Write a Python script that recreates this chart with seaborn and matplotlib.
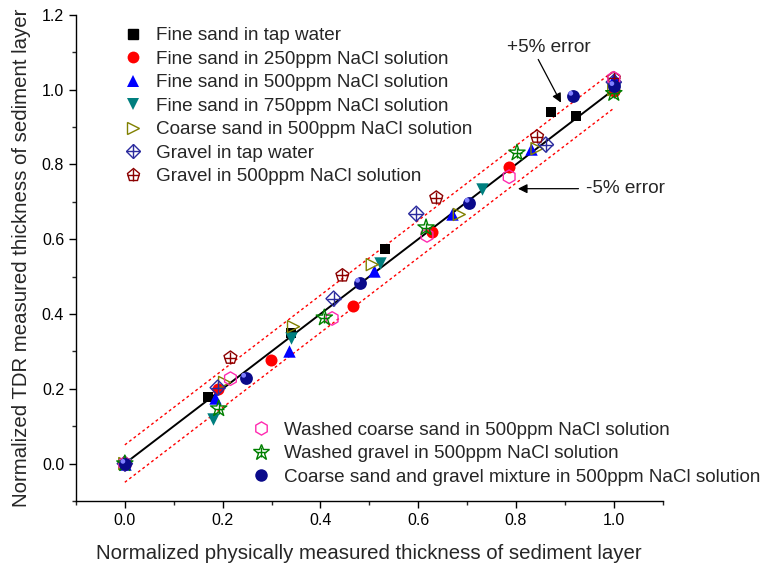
import numpy as np
import pandas as pd
import matplotlib
matplotlib.use("Agg")
import matplotlib.pyplot as plt
import seaborn as sns
from matplotlib.legend_handler import HandlerTuple
from matplotlib.lines import Line2D

sns.set_style("ticks")
plt.rcParams['font.family'] = ['Liberation Sans', 'DejaVu Sans']

# ---- data (normalized physical x, normalized TDR y) ----
fine_tap_x = [0.0, 0.171, 0.339, 0.533, 0.871, 0.922, 1.0]
fine_tap_y = [0.0, 0.179, 0.350, 0.575, 0.939, 0.928, 1.0]

fine_250_x = [0.0, 0.190, 0.298, 0.466, 0.629, 0.786, 1.0]
fine_250_y = [0.0, 0.200, 0.278, 0.422, 0.618, 0.794, 0.995]

fine_500_x = [0.0, 0.184, 0.335, 0.510, 0.669, 0.830, 1.0]
fine_500_y = [0.0, 0.174, 0.302, 0.516, 0.666, 0.840, 1.03]

fine_750_x = [0.0, 0.180, 0.340, 0.522, 0.730, 1.0]
fine_750_y = [0.0, 0.120, 0.337, 0.537, 0.735, 1.0]

coarse_500_x = [0.0, 0.204, 0.345, 0.506, 0.684, 0.843, 1.0]
coarse_500_y = [0.0, 0.217, 0.366, 0.532, 0.666, 0.842, 1.0]

gravel_tap_x = [0.0, 0.190, 0.427, 0.596, 0.861, 1.0]
gravel_tap_y = [0.0, 0.203, 0.441, 0.668, 0.853, 1.02]

gravel_500_x = [0.0, 0.216, 0.445, 0.637, 0.843, 1.0]
gravel_500_y = [0.0, 0.283, 0.503, 0.711, 0.874, 1.03]

washed_coarse_x = [0.0, 0.216, 0.424, 0.618, 0.786, 1.0]
washed_coarse_y = [0.0, 0.227, 0.388, 0.610, 0.767, 1.03]

washed_gravel_x = [0.0, 0.192, 0.408, 0.616, 0.802, 1.0]
washed_gravel_y = [0.0, 0.147, 0.390, 0.631, 0.831, 0.99]

mixture_x = [0.0, 0.247, 0.480, 0.704, 0.916, 1.0]
mixture_y = [0.0, 0.230, 0.484, 0.698, 0.984, 1.01]

line_x = [0.0, 1.0]
line_y = [0.0, 1.0]
upper_y = [0.05, 1.05]
lower_y = [-0.05, 0.95]

labels1 = ["Fine sand in tap water",
           "Fine sand in 250ppm NaCl solution",
           "Fine sand in 500ppm NaCl solution",
           "Fine sand in 750ppm NaCl solution",
           "Coarse sand in 500ppm NaCl solution",
           "Gravel in tap water",
           "Gravel in 500ppm NaCl solution"]
labels2 = ["Washed coarse sand in 500ppm NaCl solution",
           "Washed gravel in 500ppm NaCl solution",
           "Coarse sand and gravel mixture in 500ppm NaCl solution"]

fig = plt.figure(figsize=(7.67, 5.68), dpi=100)
ax = fig.add_axes([0.099, 0.118, 0.765, 0.856])

# reference lines
sns.lineplot(x=line_x, y=line_y, ax=ax, color='black', lw=1.4, zorder=2)
sns.lineplot(x=line_x, y=upper_y, ax=ax, color='red', lw=1.0, ls=(0, (2, 2)), zorder=2)
sns.lineplot(x=line_x, y=lower_y, ax=ax, color='red', lw=1.0, ls=(0, (2, 2)), zorder=2)

def sc(x, y, **kw):
    sns.scatterplot(x=x, y=y, ax=ax, legend=False, zorder=3, **kw)

NAVY = '#2b2b9e'
MAROON = '#8b0000'
OLIVE = '#808000'
PINK = '#ff2ab0'
GREEN = '#008000'
TEAL = '#007f7f'
BALL = '#0a0a8a'

sc(fine_tap_x, fine_tap_y, marker='s', s=55, color='black', edgecolor='black', linewidth=0)
sc(fine_250_x, fine_250_y, marker='o', s=75, color='red', edgecolor='red', linewidth=0)
sc(fine_500_x, fine_500_y, marker='^', s=80, color='blue', edgecolor='blue', linewidth=0)
sc(fine_750_x, fine_750_y, marker='v', s=80, color=TEAL, edgecolor=TEAL, linewidth=0)
sc(coarse_500_x, coarse_500_y, marker='>', s=75, facecolor='none', edgecolor=OLIVE, linewidth=1.0)
sc(gravel_tap_x, gravel_tap_y, marker='D', s=60, facecolor='none', edgecolor=NAVY, linewidth=1.0)
sc(gravel_tap_x, gravel_tap_y, marker='+', s=90, color=NAVY, linewidth=1.0)
sc(gravel_500_x, gravel_500_y, marker='p', s=95, facecolor='none', edgecolor=MAROON, linewidth=1.0)
sc(gravel_500_x, gravel_500_y, marker='+', s=80, color=MAROON, linewidth=1.0)
sc(washed_coarse_x, washed_coarse_y, marker='h', s=95, facecolor='none', edgecolor=PINK, linewidth=1.0)
sc(washed_gravel_x, washed_gravel_y, marker='*', s=150, facecolor='none', edgecolor=GREEN, linewidth=1.0)
sc(washed_gravel_x, washed_gravel_y, marker='+', s=50, color=GREEN, linewidth=1.0)
sc(mixture_x, mixture_y, marker='o', s=85, color=BALL, edgecolor=BALL, linewidth=0)
sc([v - 0.004 for v in mixture_x], [v + 0.006 for v in mixture_y], marker='o', s=12,
   color='#8080ff', edgecolor='none', linewidth=0)

ax.set_xlim(-0.1, 1.1)
ax.set_ylim(-0.1, 1.2)
ax.set_xticks([0.0, 0.2, 0.4, 0.6, 0.8, 1.0])
ax.set_yticks([0.0, 0.2, 0.4, 0.6, 0.8, 1.0, 1.2])
ax.set_xticks(np.arange(-0.1, 1.11, 0.1), minor=True)
ax.set_yticks(np.arange(-0.1, 1.21, 0.1), minor=True)
ax.xaxis.set_major_formatter(matplotlib.ticker.FormatStrFormatter('%.1f'))
ax.yaxis.set_major_formatter(matplotlib.ticker.FormatStrFormatter('%.1f'))
ax.tick_params(axis='both', which='major', direction='out', length=5, width=1, labelsize=11.5, colors='black')
ax.tick_params(axis='both', which='minor', direction='out', length=3, width=1)
for s in ['top', 'right']:
    ax.spines[s].set_visible(False)
for s in ['left', 'bottom']:
    ax.spines[s].set_linewidth(1.0)
    ax.spines[s].set_color('black')

ax.set_xlabel("Normalized physically measured thickness of sediment layer", fontsize=14.7, labelpad=12)
ax.set_ylabel("Normalized TDR measured thickness of sediment layer", fontsize=14.7, labelpad=8)

# annotations
ax.annotate("+5% error", xy=(0.892, 0.965), xytext=(0.782, 1.112), fontsize=13.7,
            va='center', ha='left',
            arrowprops=dict(arrowstyle='-|>', color='black', lw=0.9,
                            shrinkA=0, shrinkB=0, relpos=(0.35, 0.0)))
ax.annotate("-5% error", xy=(0.804, 0.735), xytext=(0.943, 0.735), fontsize=13.7,
            va='center', ha='left',
            arrowprops=dict(arrowstyle='-|>', color='black', lw=0.9,
                            shrinkA=3, shrinkB=0, relpos=(0.0, 0.5)))

# legends
def H(*specs):
    hs = [Line2D([], [], ls='none', **sp) for sp in specs]
    return tuple(hs) if len(hs) > 1 else hs[0]

h1 = [H(dict(marker='s', ms=7, color='black', mec='black')),
      H(dict(marker='o', ms=8.5, color='red', mec='red', mew=0)),
      H(dict(marker='^', ms=9, color='blue', mec='blue', mew=0)),
      H(dict(marker='v', ms=9, color=TEAL, mec=TEAL, mew=0)),
      H(dict(marker='>', ms=8, mfc='none', mec=OLIVE, mew=1)),
      H(dict(marker='D', ms=7.5, mfc='none', mec=NAVY, mew=1), dict(marker='+', ms=9.5, color=NAVY, mew=1)),
      H(dict(marker='p', ms=9.5, mfc='none', mec=MAROON, mew=1), dict(marker='+', ms=9, color=MAROON, mew=1))]
h2 = [H(dict(marker='h', ms=9.5, mfc='none', mec=PINK, mew=1)),
      H(dict(marker='*', ms=12, mfc='none', mec=GREEN, mew=1), dict(marker='+', ms=7, color=GREEN, mew=1)),
      H(dict(marker='o', ms=9, color=BALL, mec=BALL, mew=0))]

hm = {tuple: HandlerTuple(ndivide=1, pad=0)}
leg1 = ax.legend(h1, labels1, loc='upper left', bbox_to_anchor=(0.068, 0.99), frameon=False,
                 fontsize=13.6, handlelength=1.0, handletextpad=0.75, labelspacing=0.33,
                 borderaxespad=0, handler_map=hm)
ax.add_artist(leg1)
ax.legend(h2, labels2, loc='lower left', bbox_to_anchor=(0.286, 0.016), frameon=False,
          fontsize=13.6, handlelength=1.0, handletextpad=0.75, labelspacing=0.33,
          borderaxespad=0, handler_map=hm)

fig.savefig("out.png", dpi=100, facecolor='white')
